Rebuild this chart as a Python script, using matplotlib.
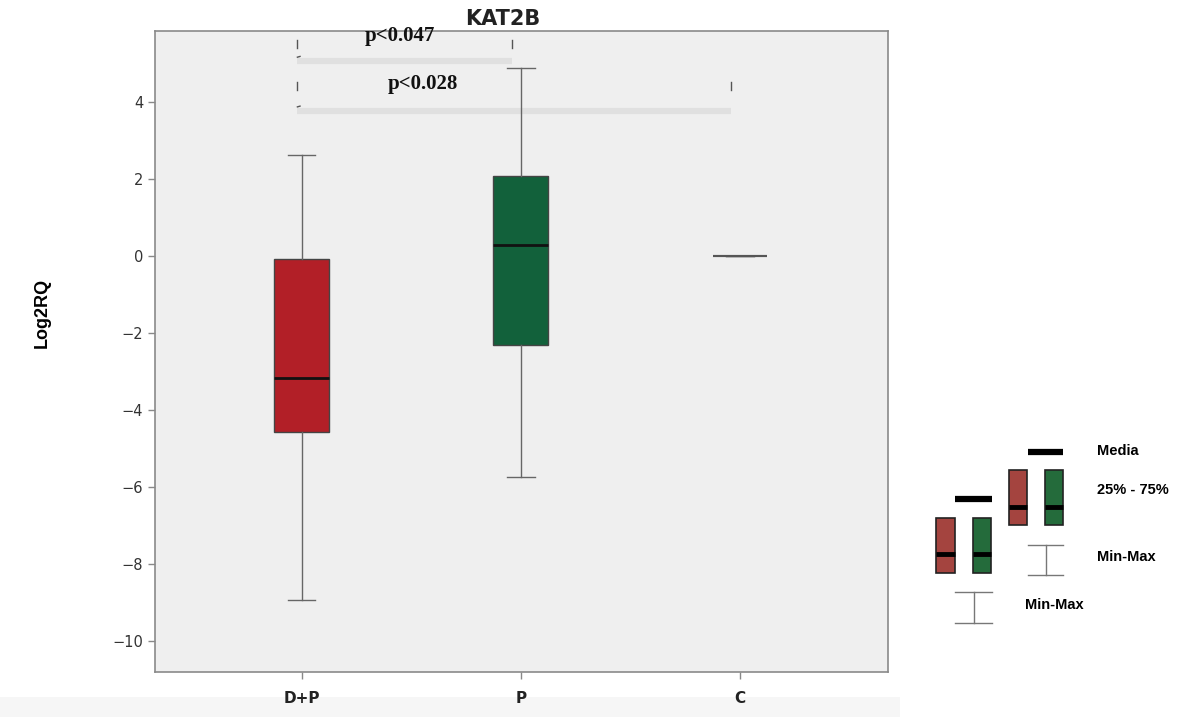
import matplotlib
matplotlib.use("Agg")
import matplotlib.pyplot as plt
from matplotlib.patches import Rectangle

# ---- data ----
categories = ["D+P", "P", "C"]
whislo = [-8.94, -5.74, 0.0]
q1 = [-4.57, -2.31, 0.0]
med = [-3.17, 0.29, 0.0]
q3 = [-0.08, 2.08, 0.0]
whishi = [2.62, 4.88, 0.0]
box_colors = ["#B21F27", "#12613B", "#EFEFEF"]
yticks = [4, 2, 0, -2, -4, -6, -8, -10]
pvals = ["p<0.047", "p<0.028"]
comparisons = [(0, 1), (0, 2)]

fig = plt.figure(figsize=(11.88, 7.17), dpi=100)
fig.patch.set_facecolor("white")

# background layer (pixel coords) for bottom light strip
bg = fig.add_axes([0, 0, 1, 1], facecolor="none", zorder=-5)
bg.set_xlim(0, 1188)
bg.set_ylim(717, 0)
bg.axis("off")
bg.add_patch(Rectangle((0, 697), 900, 20, facecolor="#f6f6f6", edgecolor="none"))

ax = fig.add_axes([155 / 1188, 1 - 672 / 717, 733 / 1188, 641 / 717], zorder=1)
ax.set_facecolor("#EFEFEF")

stats = []
for i, c in enumerate(categories):
    stats.append(dict(label=c, whislo=whislo[i], q1=q1[i], med=med[i], q3=q3[i],
                      whishi=whishi[i], fliers=[]))

bp = ax.bxp(stats, positions=range(len(categories)), widths=0.25, patch_artist=True,
            showfliers=False, capwidths=0.125,
            boxprops=dict(edgecolor="#444444", linewidth=1.0),
            whiskerprops=dict(color="#666666", linewidth=1.0),
            capprops=dict(color="#666666", linewidth=1.0),
            medianprops=dict(color="#111111", linewidth=2.0))
for patch, col in zip(bp["boxes"], box_colors):
    patch.set_facecolor(col)
bp["boxes"][2].set_edgecolor("#555555")
bp["boxes"][2].set_linewidth(1.5)
bp["medians"][2].set_color("#555555")
bp["medians"][2].set_linewidth(1.5)

ax.set_xlim(-0.67, 2.676)
ax.set_ylim(-10.8, 5.84)
ax.set_yticks(yticks)
ax.set_yticklabels([str(t).replace("-", "\u2212") for t in yticks], fontsize=10.5, color="#333333")
ax.set_xticks(range(len(categories)))
ax.set_xticklabels(categories, fontsize=11, fontweight="bold", color="#222222")
for s in ax.spines.values():
    s.set_color("#8a8a8a")
    s.set_linewidth(1.2)
ax.tick_params(axis="both", direction="out", length=5, color="#888888", width=1)
ax.tick_params(axis="x", pad=9)

ax.set_title("KAT2B", fontsize=15, fontweight="bold", color="#222222", pad=4, x=0.475)
ax.set_ylabel("Log2RQ", fontsize=13, fontweight="bold", labelpad=44, family="Liberation Sans", y=0.56)

# significance brackets
bracket_y = [5.06, 3.77]
tick_y = [5.5, 4.42]
text_pos = [(0.45, 5.71), (0.555, 4.47)]
for (a, b), by, ty, txt, (tx, tyy) in zip(comparisons, bracket_y, tick_y, pvals, text_pos):
    xa, xb = a - 0.02, b - 0.04
    ax.plot([xa, xb], [by, by], color="#e0e0e0", lw=4.5, solid_capstyle="butt", zorder=1)
    ax.plot([xa, xa], [ty - 0.1, ty + 0.1], color="#555555", lw=1)
    ax.plot([xb, xb], [ty - 0.1, ty + 0.1], color="#555555", lw=1)
    ax.plot([xa, xa + 0.012], [by + 0.1, by + 0.12], color="#555555", lw=1)
    ax.text(tx, tyy, txt, ha="center", va="center", fontsize=15, fontweight="bold",
            family="Liberation Serif", color="#111111")

# ---- legend drawn in pixel coordinates ----
lg = fig.add_axes([0, 0, 1, 1], facecolor="none", zorder=2)
lg.set_xlim(0, 1188)
lg.set_ylim(717, 0)
lg.axis("off")

leg_red = "#A4443F"
leg_green = "#246B3B"

def leg_box(x0, x1, y0, y1, ym, col):
    lg.add_patch(Rectangle((x0, y0), x1 - x0, y1 - y0, facecolor=col, edgecolor="#222222", lw=1.2))
    lg.plot([x0, x1], [ym, ym], color="black", lw=3.5, solid_capstyle="butt")

def leg_minmax(x0, x1, y0, y1):
    xm = (x0 + x1) / 2
    lg.plot([x0, x1], [y0, y0], color="#777777", lw=1)
    lg.plot([x0, x1], [y1, y1], color="#777777", lw=1)
    lg.plot([xm, xm], [y0, y1], color="#777777", lw=1)

# upper group
lg.plot([1028, 1063], [452, 452], color="black", lw=4.5, solid_capstyle="butt")
leg_box(1009, 1027, 470, 525, 507, leg_red)
leg_box(1045, 1063, 470, 525, 507, leg_green)
leg_minmax(1028, 1063, 545, 575)
# lower group
lg.plot([955, 992], [499, 499], color="black", lw=4.5, solid_capstyle="butt")
leg_box(936, 955, 518, 573, 554, leg_red)
leg_box(973, 991, 518, 573, 554, leg_green)
leg_minmax(955, 992, 592, 623)

lg.text(1097, 451, "Media", fontsize=10.5, fontweight="bold", va="center", family="Liberation Sans")
lg.text(1097, 490, "25% - 75%", fontsize=10.5, fontweight="bold", va="center", family="Liberation Sans")
lg.text(1097, 557, "Min-Max", fontsize=10.5, fontweight="bold", va="center", family="Liberation Sans")
lg.text(1025, 605, "Min-Max", fontsize=10.5, fontweight="bold", va="center", family="Liberation Sans")

fig.savefig("out.png", dpi=100)
